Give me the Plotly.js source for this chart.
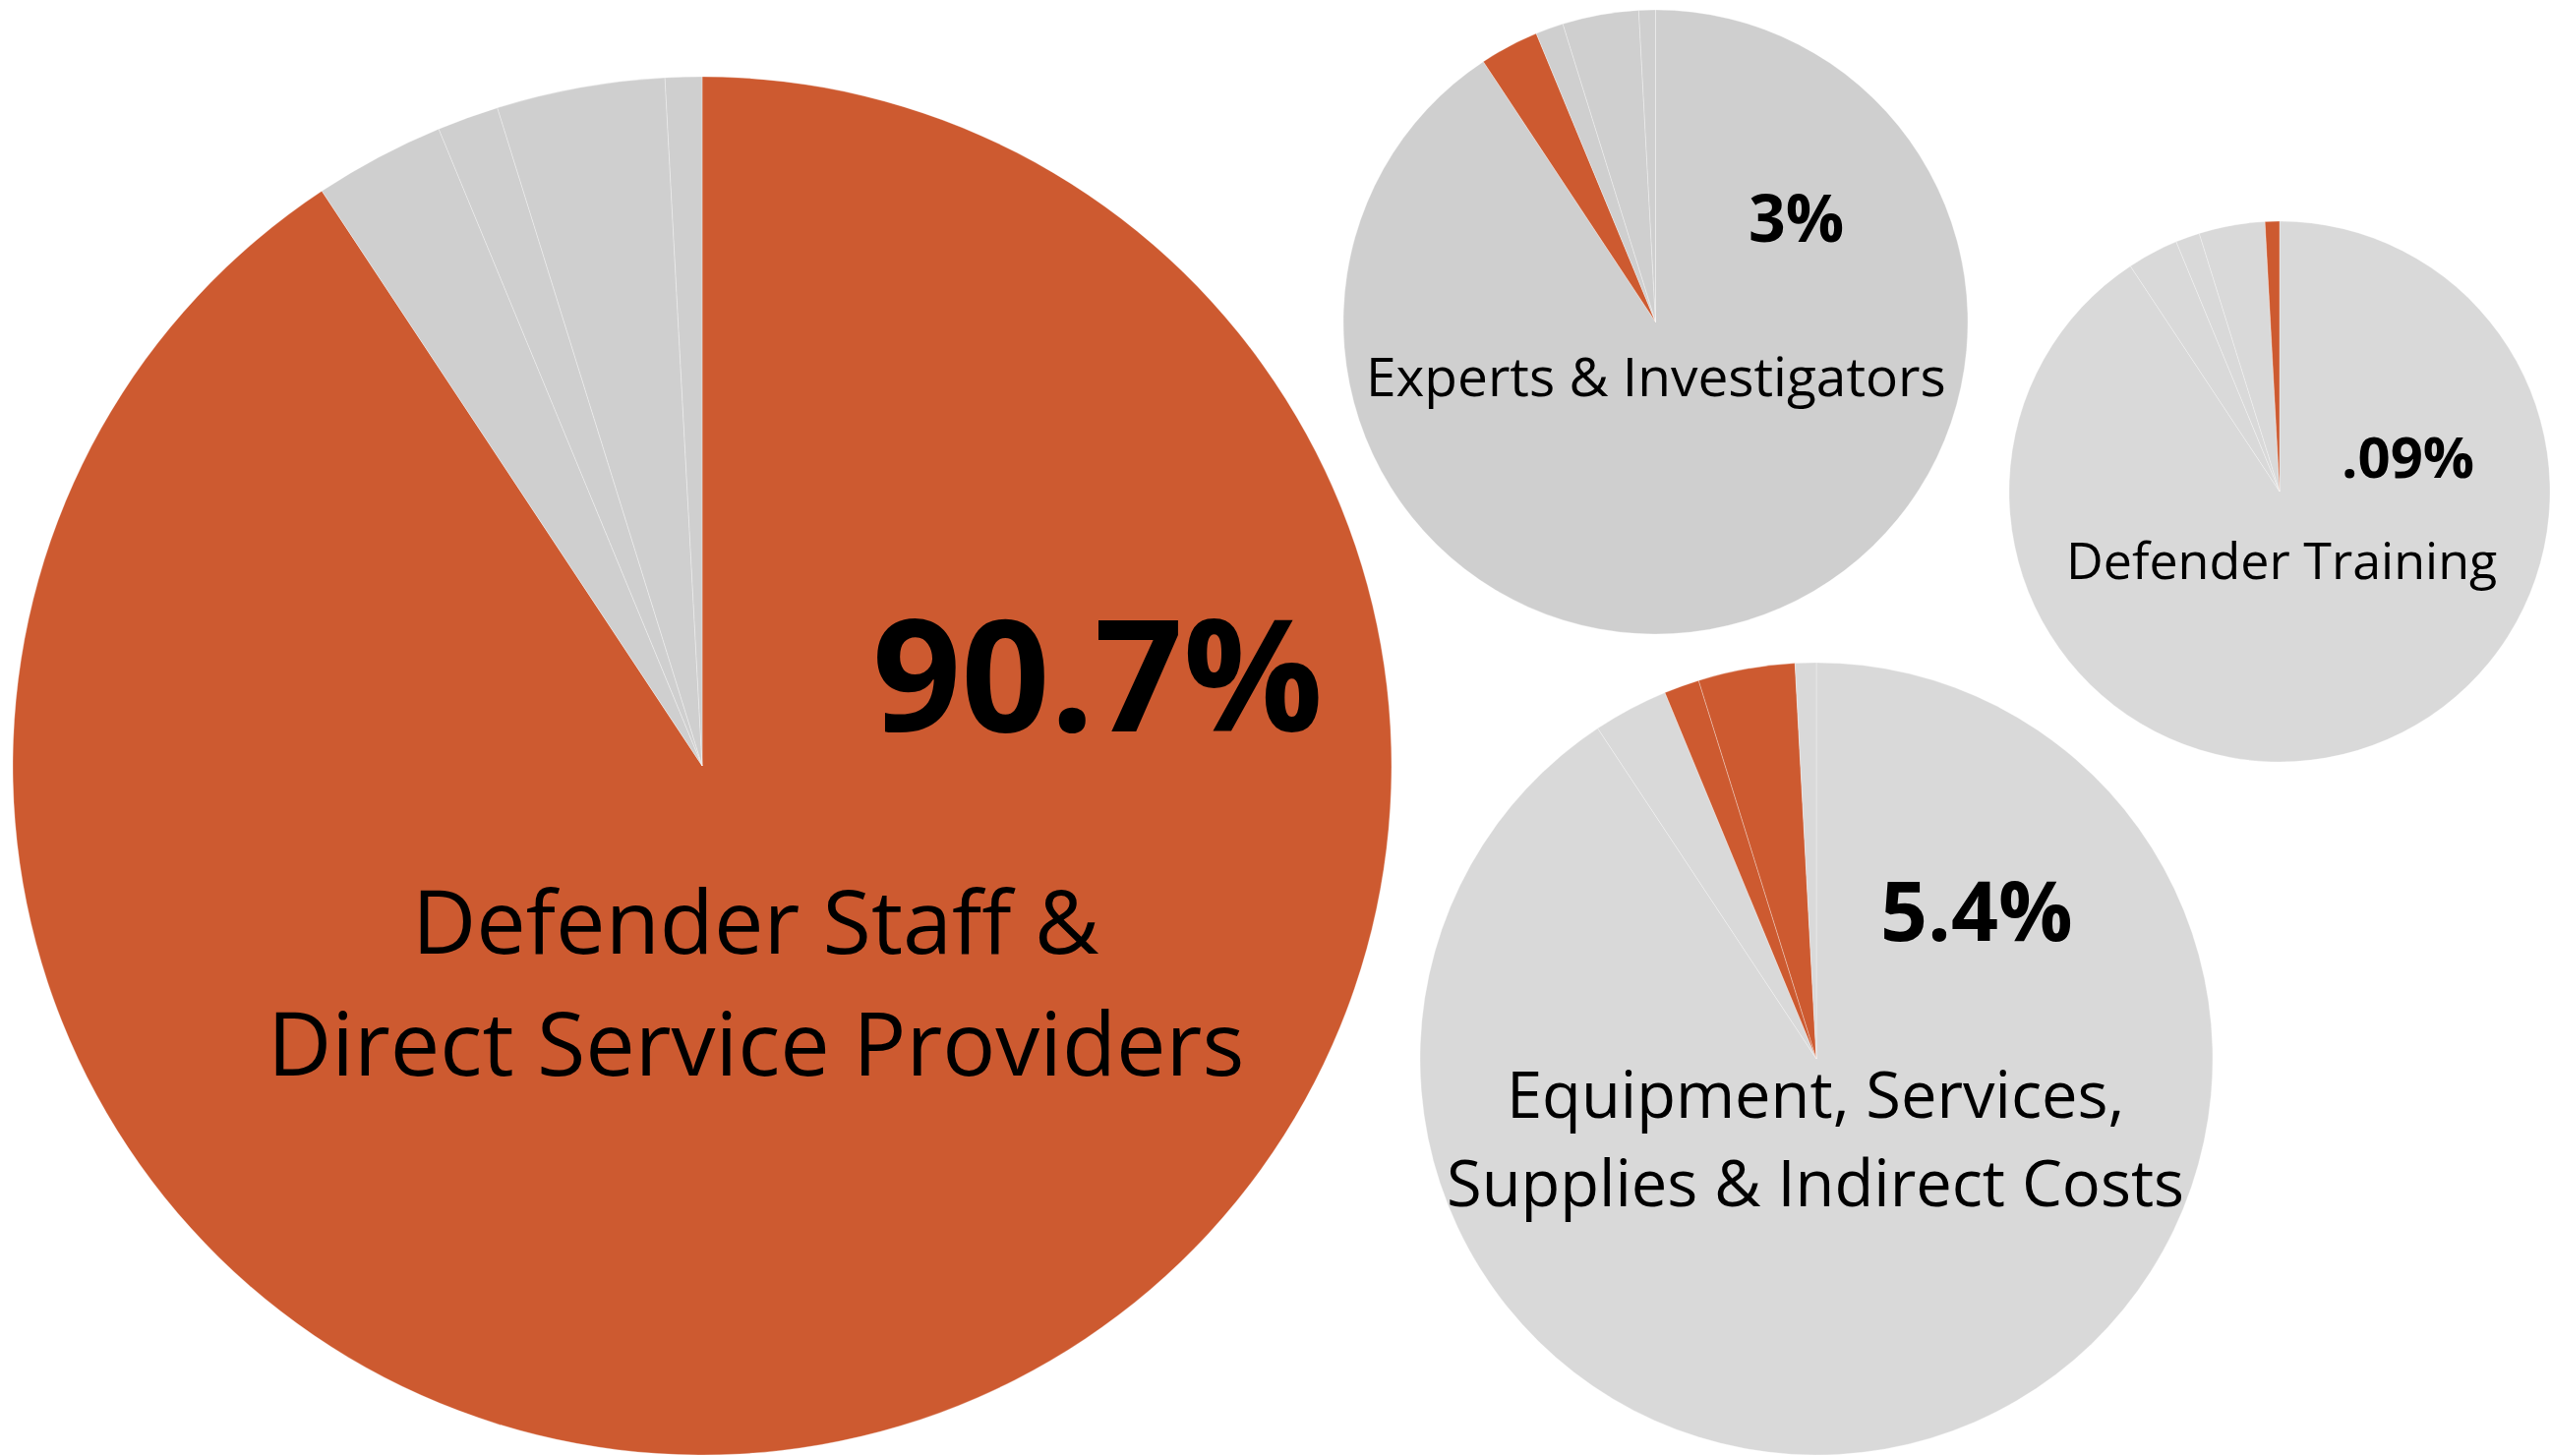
<!DOCTYPE html>
<html>
<head>
<meta charset="utf-8">
<script src="https://cdn.plot.ly/plotly-3.0.1.min.js"></script>
<style>
  html, body { margin: 0; padding: 0; background: white; }
  #chart { width: 2593px; height: 1481px; }
</style>
</head>
<body>
<div id="chart"></div>
<script>
// Budget share pies - one pie per spending category, same data, different highlight

const categories = [
    'Defender Staff & Direct Service Providers',
    'Experts & Investigators',
    'Equipment & Services',
    'Supplies & Indirect Costs',
    'Defender Training'
];
const shares = [90.7, 3.06, 1.44, 3.94, 0.86];

// which slices are highlighted in each pie, and the text shown on it
const highlightGroups = [[0], [1], [4], [2, 3]];
const pieValueLabels = ['90.7%', '3%', '.09%', '5.4%'];
const pieNameLines = [
    ['Defender Staff &', 'Direct Service Providers'],
    ['Experts & Investigators'],
    ['Defender Training'],
    ['Equipment, Services,', 'Supplies & Indirect Costs']
];

const W = 2593, H = 1481;
const ORANGE = '#cd5a30';

// pixel geometry of each pie: centre x, centre y, radius, base grey
const pies = [
    { cx: 714, cy: 779, r: 701, grey: '#cfcfcf' },
    { cx: 1683.5, cy: 327.5, r: 317.5, grey: '#cfcfcf' },
    { cx: 2318, cy: 500, r: 275, grey: '#d9d9d9' },
    { cx: 1847, cy: 1077, r: 403, grey: '#d9d9d9' }
];

// label positions in pixels and font sizes
const valueText = [
    { x: 1116, y: 682, size: 158 },
    { x: 1826, y: 220, size: 66 },
    { x: 2448, y: 463, size: 58 },
    { x: 2010, y: 924, size: 84 }
];
const nameText = [
    { x: 768, ys: [935, 1059], size: 90 },
    { x: 1684, ys: [382], size: 55 },
    { x: 2320, ys: [569], size: 52 },
    { x: 1846, ys: [1112, 1202], size: 65 }
];

function domainFor(p) {
    const clamp = v => Math.max(0, Math.min(1, v));
    return {
        x: [clamp((p.cx - p.r) / W), clamp((p.cx + p.r) / W)],
        y: [clamp(1 - (p.cy + p.r) / H), clamp(1 - (p.cy - p.r) / H)]
    };
}

const traces = pies.map((p, i) => ({
    type: 'pie',
    labels: categories,
    values: shares,
    sort: false,
    direction: 'clockwise',
    rotation: 0,
    textinfo: 'none',
    hoverinfo: 'label+percent',
    domain: domainFor(p),
    marker: {
        colors: categories.map((c, k) => highlightGroups[i].includes(k) ? ORANGE : p.grey),
        line: { color: 'rgba(255,255,255,0.3)', width: 1 }
    },
    showlegend: false
}));

function label(text, x, y, size) {
    return {
        text: text,
        x: x / W, y: 1 - y / H,
        xref: 'paper', yref: 'paper', xanchor: 'center', yanchor: 'middle',
        showarrow: false,
        font: { family: 'Open Sans, sans-serif', size: size, color: '#000' }
    };
}

const annotations = [];
pies.forEach((p, i) => {
    const v = valueText[i];
    annotations.push(label('<b>' + pieValueLabels[i] + '</b>', v.x, v.y, v.size));
    const n = nameText[i];
    pieNameLines[i].forEach((line, j) => {
        annotations.push(label(line, n.x, n.ys[j], n.size));
    });
});

const layout = {
    width: W,
    height: H,
    margin: { l: 0, r: 0, t: 0, b: 0 },
    paper_bgcolor: 'white',
    plot_bgcolor: 'white',
    font: { family: 'Open Sans, sans-serif' },
    annotations: annotations
};

Plotly.newPlot('chart', traces, layout, { displayModeBar: false, staticPlot: true });
</script>
</body>
</html>
